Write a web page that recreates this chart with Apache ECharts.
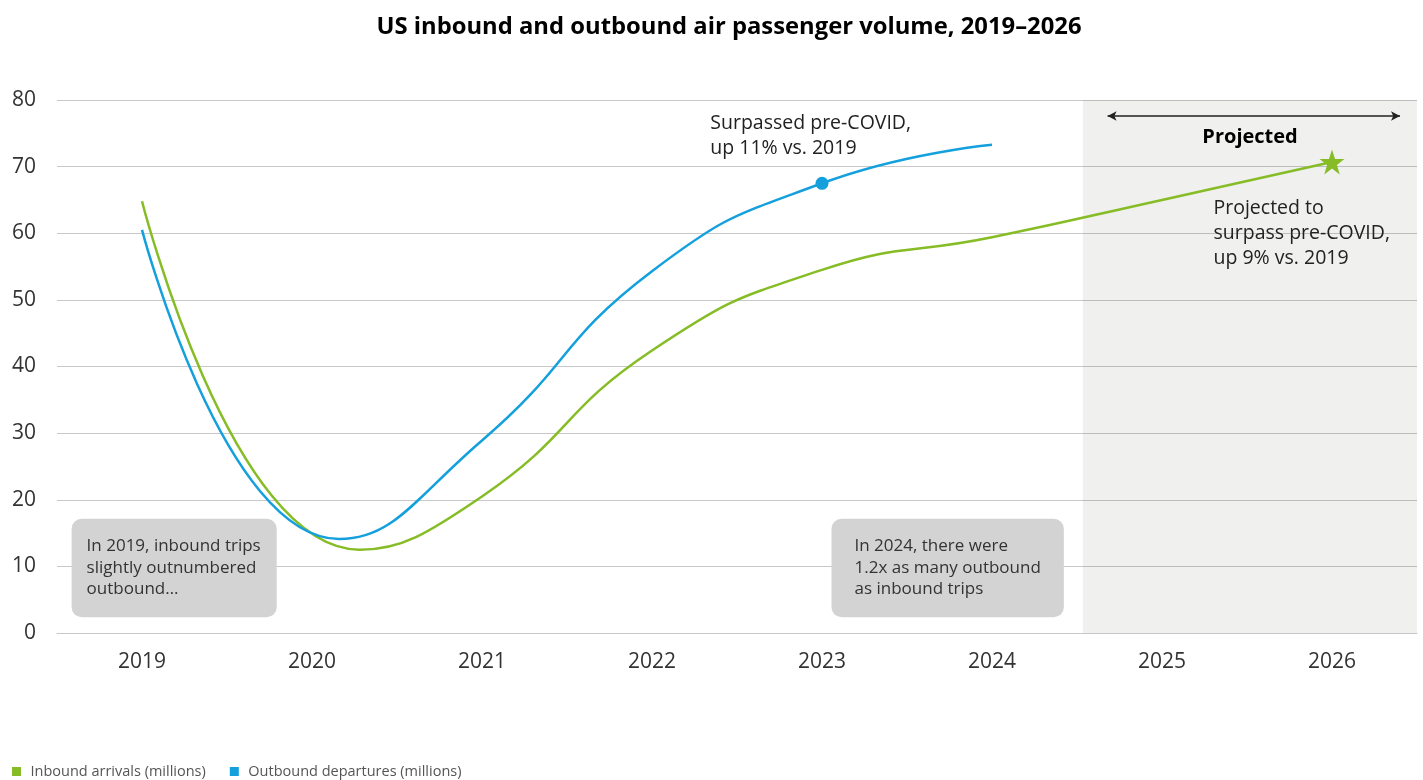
<!DOCTYPE html>
<html>
<head>
<meta charset="utf-8">
<script src="https://cdn.jsdelivr.net/npm/echarts@6/dist/echarts.min.js"></script>
<style>
  html, body { margin: 0; padding: 0; background: #fff; }
  #chart { width: 1423px; height: 780px; }
</style>
</head>
<body>
<div id="chart"></div>
<script>
const years = ['2019', '2020', '2021', '2022', '2023', '2024', '2025', '2026'];
// Readings from the picture (year position, millions); the 2020 dip is read at its trough
const inboundX = [2019, 2020.28, 2021, 2022, 2023, 2024, 2025, 2026];
const inbound = [64.8, 12.5, 20.5, 42.4, 54.5, 59.4, 65.0, 70.7];
const outboundX = [2019, 2020.16, 2021, 2022, 2023, 2024];
const outbound = [60.5, 14.1, 28.9, 54.3, 67.5, 73.3];
const yTicks = [0, 10, 20, 30, 40, 50, 60, 70, 80];
const titleText = 'US inbound and outbound air passenger volume, 2019–2026';
const seriesNames = ['Inbound arrivals (millions)', 'Outbound departures (millions)'];
const markedOutboundYear = 2023;
const projectedRange = [2024.535, 2026.5];
const arrowRange = [2024.68, 2026.4];
const arrowValue = 77.6;
const notes = {
  surpassed: { x: 2022.34, y: 74.6, text: 'Surpassed pre-COVID,\nup 11% vs. 2019' },
  projectedTo: { x: 2025.3, y: 59.9, text: 'Projected to\nsurpass pre-COVID,\nup 9% vs. 2019' },
  projectedLabel: { x: 2025.518, y: 74.45, text: 'Projected' },
  box2019: { x: 2018.583, y: 9.76, text: 'In 2019, inbound trips\nslightly outnumbered\noutbound…' },
  box2024: { x: 2023.053, y: 9.76, text: 'In 2024, there were\n1.2x as many outbound\nas inbound trips' }
};

const GREEN = '#86BC25';
const BLUE = '#14A0DC';
const FONT = '"Open Sans", "Noto Sans", sans-serif';
const STAR = 'path://M50,0 L61.8,35.1 L98.9,35.1 L69.1,57.3 L80.3,92.7 L50,70.8 L19.7,92.7 L30.9,57.3 L1.1,35.1 L38.2,35.1 Z';

const chart = echarts.init(document.getElementById('chart'), null, { renderer: 'canvas' });

const inboundData = inbound.map((v, i) => i === inbound.length - 1
  ? { value: [inboundX[i], v], symbol: STAR, symbolSize: 25, itemStyle: { color: GREEN } }
  : { value: [inboundX[i], v] });
const outboundData = outbound.map((v, i) => outboundX[i] === markedOutboundYear
  ? { value: [outboundX[i], v], symbol: 'circle', symbolSize: 13, itemStyle: { color: BLUE } }
  : { value: [outboundX[i], v] });

function textNote(n, opts) {
  return {
    coord: [n.x, n.y],
    symbol: 'circle',
    symbolSize: 1,
    itemStyle: { color: 'rgba(0,0,0,0)' },
    label: Object.assign({
      show: true,
      formatter: n.text,
      position: 'right',
      distance: 0,
      color: '#222',
      fontFamily: FONT,
      fontSize: 19.5,
      lineHeight: 25,
      align: 'left'
    }, opts || {})
  };
}

const boxStyle = {
  fontSize: 17, lineHeight: 21.5, color: '#333',
  backgroundColor: '#d3d3d3', borderRadius: 10
};

const option = {
  animation: false,
  backgroundColor: '#ffffff',
  title: {
    text: titleText,
    left: 724,
    top: 10,
    textAlign: 'center',
    textStyle: { fontFamily: FONT, fontWeight: 'bold', fontSize: 23.8, color: '#000' }
  },
  legend: {
    data: seriesNames.map((n, i) => ({ name: n, icon: 'path://M0,0H10V10H0Z', itemStyle: { color: i === 0 ? GREEN : BLUE } })),
    left: 7,
    top: 759,
    itemWidth: 18,
    itemHeight: 9,
    itemGap: 24,
    textStyle: { fontFamily: FONT, fontSize: 14.5, color: '#555' }
  },
  grid: { left: 57, right: 6, top: 100, bottom: 147, containLabel: false },
  xAxis: [
    {
      type: 'category',
      data: years,
      boundaryGap: true,
      axisLine: { show: true, lineStyle: { color: '#c8c8c8', width: 1 } },
      axisTick: { show: false },
      axisLabel: { margin: 19, fontFamily: FONT, fontSize: 21, color: '#333' },
      splitLine: { show: false }
    },
    {
      type: 'value',
      min: 2018.5,
      max: 2026.5,
      show: false
    }
  ],
  yAxis: {
    type: 'value',
    min: yTicks[0],
    max: yTicks[yTicks.length - 1],
    interval: 10,
    axisLine: { show: false },
    axisTick: { show: false },
    axisLabel: { margin: 21, fontFamily: FONT, fontSize: 21, color: '#333' },
    splitLine: { show: true, lineStyle: { color: '#c8c8c8', width: 1 } }
  },
  series: [
    {
      name: 'annotations',
      type: 'line',
      xAxisIndex: 1,
      yAxisIndex: 0,
      data: [],
      silent: true,
      markArea: {
        silent: true,
        itemStyle: { color: 'rgba(60,60,40,0.075)' },
        data: [[{ coord: [projectedRange[0], yTicks[0]] }, { coord: [projectedRange[1], yTicks[yTicks.length - 1]] }]]
      },
      markLine: {
        silent: true,
        symbol: ['arrow', 'arrow'],
        symbolSize: [7, 9],
        label: { show: false },
        lineStyle: { color: '#222', width: 1.5, type: 'solid' },
        data: [[{ coord: [arrowRange[0], arrowValue] }, { coord: [arrowRange[1], arrowValue] }]]
      },
      markPoint: {
        silent: true,
        data: [
          textNote(notes.surpassed),
          textNote(notes.projectedTo),
          textNote(notes.projectedLabel, { position: 'inside', align: 'center', fontWeight: 'bold', fontSize: 20, color: '#000' }),
          textNote(notes.box2019, Object.assign({ padding: [17, 16, 17, 15] }, boxStyle)),
          textNote(notes.box2024, Object.assign({ padding: [17, 23, 17, 23] }, boxStyle))
        ]
      },
      z: 1
    },
    {
      name: seriesNames[0],
      type: 'line',
      xAxisIndex: 1,
      data: inboundData,
      smooth: 0.5,
      symbol: 'none',
      showSymbol: true,
      lineStyle: { color: GREEN, width: 2.5 },
      itemStyle: { color: GREEN },
      z: 3
    },
    {
      name: seriesNames[1],
      type: 'line',
      xAxisIndex: 1,
      data: outboundData,
      smooth: 0.5,
      symbol: 'none',
      showSymbol: true,
      lineStyle: { color: BLUE, width: 2.5 },
      itemStyle: { color: BLUE },
      z: 4
    }
  ]
};

chart.setOption(option);
</script>
</body>
</html>
